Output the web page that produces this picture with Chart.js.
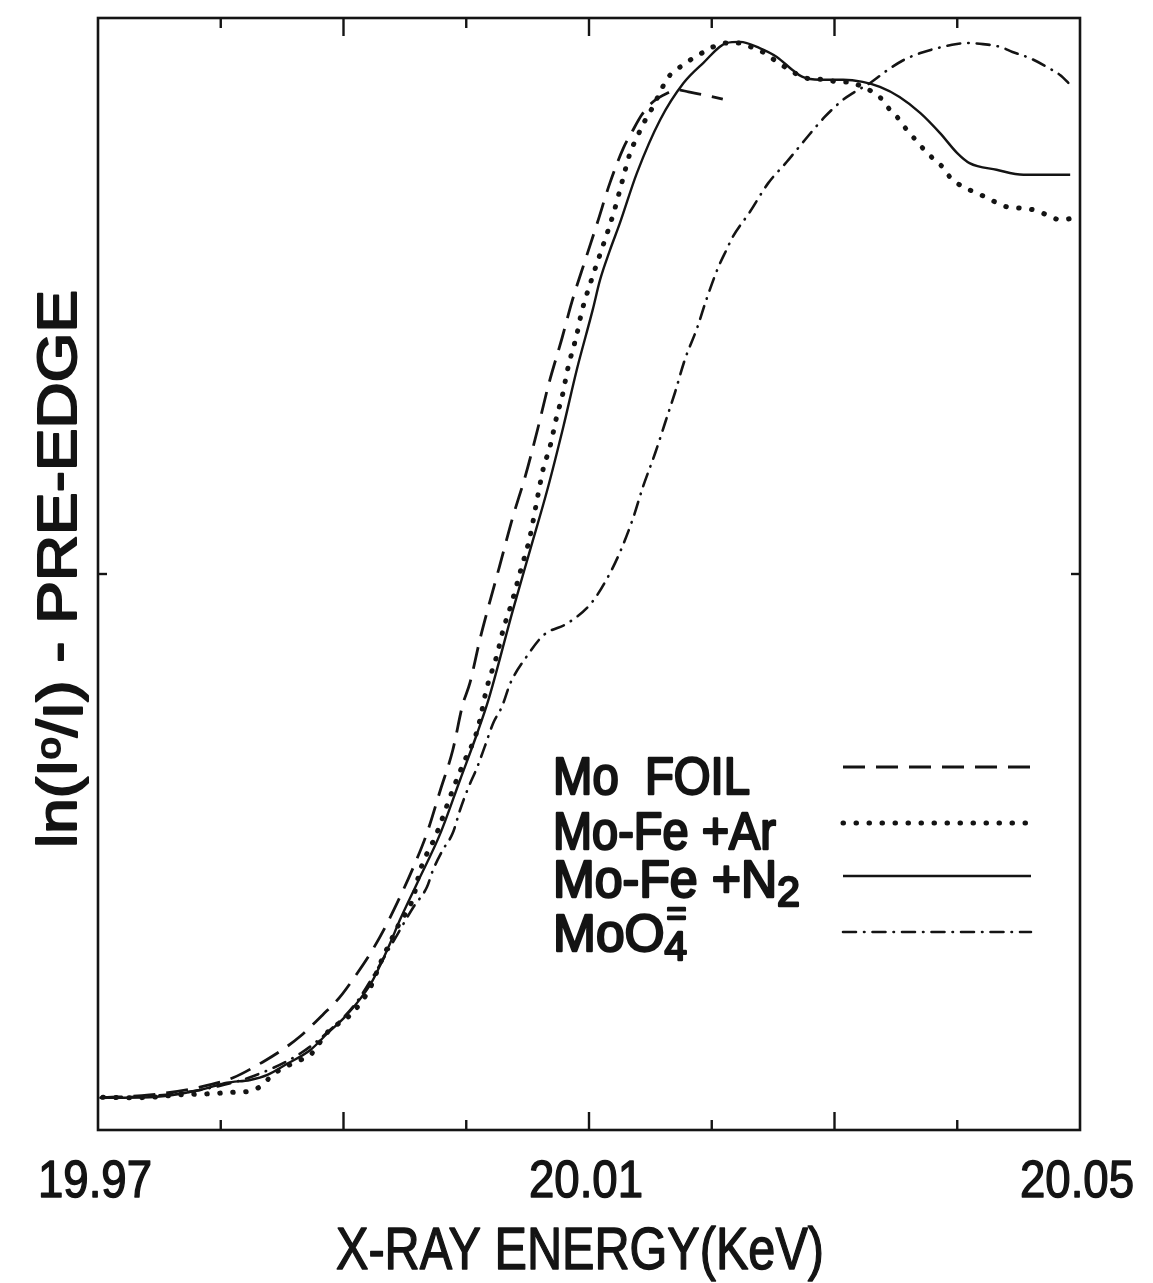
<!DOCTYPE html>
<html>
<head>
<meta charset="utf-8">
<title>Mo K-edge</title>
<script src="https://cdn.jsdelivr.net/npm/chart.js@4.4.1/dist/chart.umd.min.js"></script>
<style>
  html, body { margin: 0; padding: 0; background: #fff; }
  #wrap { width: 1153px; height: 1283px; }
</style>
</head>
<body>
<div id="wrap"><canvas id="edgeChart" width="1153" height="1283"></canvas></div>
<script>
// values (energy in keV, absorbance in arbitrary units)
const foilEnergy = [19.9702, 19.9742, 19.9783, 19.9810, 19.9834, 19.9850, 19.9865, 19.9883, 19.9897, 19.9909,
  19.9922, 19.9934, 19.9946, 19.9957, 19.9968, 19.9979, 19.9989, 19.9997, 20.0003, 20.0011,
  20.0017, 20.0027, 20.0038, 20.0048, 20.0058, 20.0067, 20.0078, 20.0086, 20.0097, 20.0107,
  20.0117, 20.0128, 20.0135, 20.0143, 20.0152, 20.0164, 20.0172, 20.0181, 20.0193, 20.0209];
const foilAbs = [0.058, 0.063, 0.077, 0.094, 0.122, 0.144, 0.169, 0.207, 0.239, 0.275,
  0.318, 0.365, 0.419, 0.473, 0.534, 0.612, 0.683, 0.764, 0.804, 0.881,
  0.932, 1.013, 1.103, 1.175, 1.259, 1.340, 1.424, 1.489, 1.565, 1.633,
  1.703, 1.766, 1.795, 1.826, 1.849, 1.865, 1.871, 1.867, 1.862, 1.854];

const arEnergy = [19.9704, 19.9724, 19.9745, 19.9764, 19.9789, 19.9812, 19.9824, 19.9834, 19.9842, 19.9854,
  19.9865, 19.9873, 19.9887, 19.9907, 19.9922, 19.9930, 19.9944, 19.9957, 19.9962, 19.9976,
  19.9989, 19.9997, 20.0009, 20.0017, 20.0025, 20.0030, 20.0037, 20.0044, 20.0052, 20.0058,
  20.0063, 20.0068, 20.0074, 20.0078, 20.0083, 20.0090, 20.0094, 20.0102, 20.0111, 20.0120,
  20.0128, 20.0133, 20.0140, 20.0146, 20.0152, 20.0158, 20.0164, 20.0172, 20.0182, 20.0192,
  20.0201, 20.0212, 20.0223, 20.0234, 20.0243, 20.0252, 20.0261, 20.0274, 20.0283, 20.0291,
  20.0303, 20.0313, 20.0319, 20.0331, 20.0339, 20.0344, 20.0351, 20.0357, 20.0364, 20.0371,
  20.0379, 20.0388, 20.0394, 20.0405, 20.0414, 20.0423, 20.0431, 20.0441, 20.0451, 20.0462,
  20.0473, 20.0484, 20.0492];
const arAbs = [0.059, 0.058, 0.059, 0.063, 0.065, 0.068, 0.070, 0.081, 0.099, 0.115,
  0.126, 0.135, 0.176, 0.210, 0.257, 0.300, 0.365, 0.419, 0.464, 0.534,
  0.612, 0.656, 0.719, 0.797, 0.854, 0.899, 0.948, 1.004, 1.068, 1.137,
  1.192, 1.227, 1.286, 1.318, 1.372, 1.430, 1.471, 1.529, 1.588, 1.649,
  1.714, 1.754, 1.790, 1.817, 1.840, 1.867, 1.892, 1.908, 1.924, 1.937,
  1.948, 1.955, 1.955, 1.946, 1.937, 1.923, 1.910, 1.894, 1.890, 1.890,
  1.885, 1.885, 1.880, 1.867, 1.853, 1.838, 1.822, 1.804, 1.786, 1.768,
  1.750, 1.732, 1.714, 1.696, 1.687, 1.678, 1.669, 1.660, 1.658, 1.655,
  1.646, 1.637, 1.639];

const n2Energy = [19.9702, 19.9742, 19.9783, 19.9805, 19.9824, 19.9838, 19.9854, 19.9873, 19.9887, 19.9901,
  19.9913, 19.9923, 19.9930, 19.9938, 19.9946, 19.9960, 19.9979, 19.9995, 20.0009, 20.0018,
  20.0038, 20.0052, 20.0066, 20.0079, 20.0090, 20.0103, 20.0109, 20.0117, 20.0125, 20.0139,
  20.0158, 20.0177, 20.0193, 20.0212, 20.0223, 20.0239, 20.0253, 20.0266, 20.0274, 20.0288,
  20.0307, 20.0323, 20.0337, 20.0353, 20.0370, 20.0386, 20.0400, 20.0410, 20.0432, 20.0454,
  20.0492];
const n2Abs = [0.058, 0.059, 0.072, 0.085, 0.090, 0.099, 0.119, 0.144, 0.174, 0.203,
  0.234, 0.266, 0.297, 0.336, 0.378, 0.444, 0.534, 0.630, 0.714, 0.773,
  0.935, 1.043, 1.151, 1.264, 1.367, 1.475, 1.529, 1.582, 1.630, 1.721,
  1.817, 1.883, 1.919, 1.955, 1.957, 1.946, 1.930, 1.906, 1.894, 1.889,
  1.889, 1.885, 1.876, 1.858, 1.829, 1.793, 1.757, 1.739, 1.727, 1.718,
  1.718];

const moEnergy = [19.9702, 19.9742, 19.9783, 19.9824, 19.9865, 19.9889, 19.9909, 19.9928, 19.9938, 19.9957,
  19.9968, 19.9973, 19.9981, 19.9989, 19.9995, 20.0001, 20.0009, 20.0015, 20.0022, 20.0029,
  20.0036, 20.0050, 20.0063, 20.0083, 20.0102, 20.0115, 20.0125, 20.0136, 20.0144, 20.0154,
  20.0162, 20.0170, 20.0178, 20.0188, 20.0196, 20.0205, 20.0212, 20.0217, 20.0231, 20.0246,
  20.0261, 20.0276, 20.0292, 20.0307, 20.0315, 20.0329, 20.0343, 20.0356, 20.0370, 20.0384,
  20.0394, 20.0408, 20.0421, 20.0435, 20.0445, 20.0459, 20.0473, 20.0484, 20.0492];
const moAbs = [0.058, 0.061, 0.072, 0.095, 0.138, 0.180, 0.225, 0.291, 0.329, 0.401,
  0.437, 0.468, 0.504, 0.534, 0.576, 0.612, 0.653, 0.689, 0.732, 0.761,
  0.804, 0.854, 0.890, 0.912, 0.948, 0.993, 1.038, 1.101, 1.157, 1.218,
  1.272, 1.326, 1.385, 1.442, 1.496, 1.550, 1.583, 1.606, 1.651, 1.703,
  1.741, 1.781, 1.822, 1.853, 1.865, 1.883, 1.906, 1.924, 1.937, 1.946,
  1.951, 1.955, 1.953, 1.948, 1.939, 1.928, 1.912, 1.897, 1.880];

const xTicks = [19.98, 19.99, 20.00, 20.01, 20.02, 20.03, 20.04];
const xMajorTicks = [19.99, 20.01, 20.03];
const xLabelValues = [19.97, 20.01, 20.05];
const xTickLabels = ['19.97', '20.01', '20.05'];
const yTicks = [1];

const ink = '#141414';
const fontFamily = '"Liberation Sans", Arial, sans-serif';

function toPoints(xs, ys) {
  return xs.map((x, i) => ({ x: x, y: ys[i] }));
}

// draws a run of text pieces (for sub/superscripts), squeezed to a given width
function drawPieces(ctx, pieces, x, y, width, heavy) {
  let total = 0;
  pieces.forEach(p => {
    ctx.font = `${p.size}px ${fontFamily}`;
    p.w = ctx.measureText(p.t).width;
    if (p.advance !== false) total += p.w;
  });
  const sx = width ? width / total : 1;
  ctx.save();
  ctx.translate(x, y);
  ctx.scale(sx, 1);
  ctx.lineWidth = heavy || 1.6;
  ctx.lineJoin = 'round';
  let cur = 0;
  pieces.forEach(p => {
    ctx.font = `${p.size}px ${fontFamily}`;
    ctx.fillText(p.t, cur + (p.dx || 0), p.dy || 0);
    ctx.strokeText(p.t, cur + (p.dx || 0), p.dy || 0);
    if (p.advance !== false) cur += p.w;
  });
  ctx.restore();
}

const frameAndText = {
  id: 'frameAndText',
  afterDatasetsDraw(chart) {
    const { ctx, chartArea: a, scales } = chart;
    const xs = scales.x, ys = scales.y;
    const line = (x1, y1, x2, y2) => { ctx.beginPath(); ctx.moveTo(x1, y1); ctx.lineTo(x2, y2); ctx.stroke(); };

    ctx.save();
    ctx.strokeStyle = ink;
    ctx.fillStyle = ink;
    ctx.setLineDash([]);
    ctx.lineWidth = 2.6;
    ctx.strokeRect(a.left, a.top, a.right - a.left, a.bottom - a.top);

    ctx.lineWidth = 2.4;
    xTicks.forEach(v => {
      const px = xs.getPixelForValue(v);
      const len = xMajorTicks.includes(v) ? 18 : 10;
      line(px, a.top, px, a.top + len);
      line(px, a.bottom, px, a.bottom - len);
    });
    yTicks.forEach(v => {
      const py = ys.getPixelForValue(v);
      line(a.left, py, a.left + 9, py);
      line(a.right, py, a.right - 9, py);
    });

    // tick labels
    ctx.textBaseline = 'alphabetic';
    ctx.textAlign = 'left';
    xLabelValues.forEach((v, i) => {
      const w = 114;
      drawPieces(ctx, [{ t: xTickLabels[i], size: 51 }], xs.getPixelForValue(v) - w / 2 - 3, 1197, w, 1.4);
    });

    // axis titles
    drawPieces(ctx, [{ t: 'X-RAY ENERGY(KeV)', size: 59 }], 336, 1269, 488, 1.4);

    ctx.save();
    ctx.translate(76, 848);
    ctx.rotate(-Math.PI / 2);
    drawPieces(ctx, [
      { t: 'ln(I', size: 55 },
      { t: 'o', size: 34, dy: -16 },
      { t: '/', size: 55 },
      { t: 'I', size: 55, dy: 6 },
      { t: ') - PRE-EDGE', size: 55 }
    ], 0, 0, 558, 2);
    ctx.restore();

    // legend: names on the left, line samples on the right
    const legendRows = [
      { pieces: [{ t: 'Mo  FOIL', size: 51 }], base: 794, w: 197, lineY: 767 },
      { pieces: [{ t: 'Mo-Fe +Ar', size: 51 }], base: 849, w: 223, lineY: 823 },
      { pieces: [{ t: 'Mo-Fe +N', size: 51 }, { t: '2', size: 42, dy: 9 }], base: 897, w: 247, lineY: 876 },
      { pieces: [{ t: 'MoO', size: 51 }, { t: '=', size: 34, dy: -26, advance: false, dx: 2 }, { t: '4', size: 40, dy: 9 }], base: 951, w: 134, lineY: 932 }
    ];
    legendRows.forEach((row, i) => {
      drawPieces(ctx, row.pieces, 553, row.base, row.w, 2.4);
      const ds = chart.data.datasets[i];
      ctx.save();
      ctx.lineWidth = ds.borderWidth;
      ctx.lineCap = ds.borderCapStyle || 'butt';
      ctx.setLineDash(ds.borderDash || []);
      line(843, row.lineY, 1031, row.lineY);
      ctx.restore();
    });
    ctx.restore();
  }
};

new Chart(document.getElementById('edgeChart'), {
  type: 'line',
  data: {
    datasets: [
      { label: 'Mo FOIL', data: toPoints(foilEnergy, foilAbs), borderColor: ink, borderWidth: 2.8, borderDash: [22, 11] },
      { label: 'Mo-Fe +Ar', data: toPoints(arEnergy, arAbs), borderColor: ink, borderWidth: 5, borderDash: [0.5, 12.5], borderCapStyle: 'round' },
      { label: 'Mo-Fe +N2', data: toPoints(n2Energy, n2Abs), borderColor: ink, borderWidth: 2.4 },
      { label: 'MoO4=', data: toPoints(moEnergy, moAbs), borderColor: ink, borderWidth: 2.6, borderDash: [13, 8, 0.5, 8], borderCapStyle: 'round' }
    ]
  },
  options: {
    responsive: false,
    animation: false,
    devicePixelRatio: 1,
    layout: { padding: { left: 98, right: 73, top: 18, bottom: 153 } },
    elements: {
      point: { radius: 0 },
      line: { cubicInterpolationMode: 'monotone', fill: false }
    },
    plugins: { legend: { display: false }, tooltip: { enabled: false } },
    scales: {
      x: { type: 'linear', min: 19.97, max: 20.05, display: false },
      y: { type: 'linear', min: 0, max: 2, display: false }
    }
  },
  plugins: [frameAndText]
});
</script>
</body>
</html>
